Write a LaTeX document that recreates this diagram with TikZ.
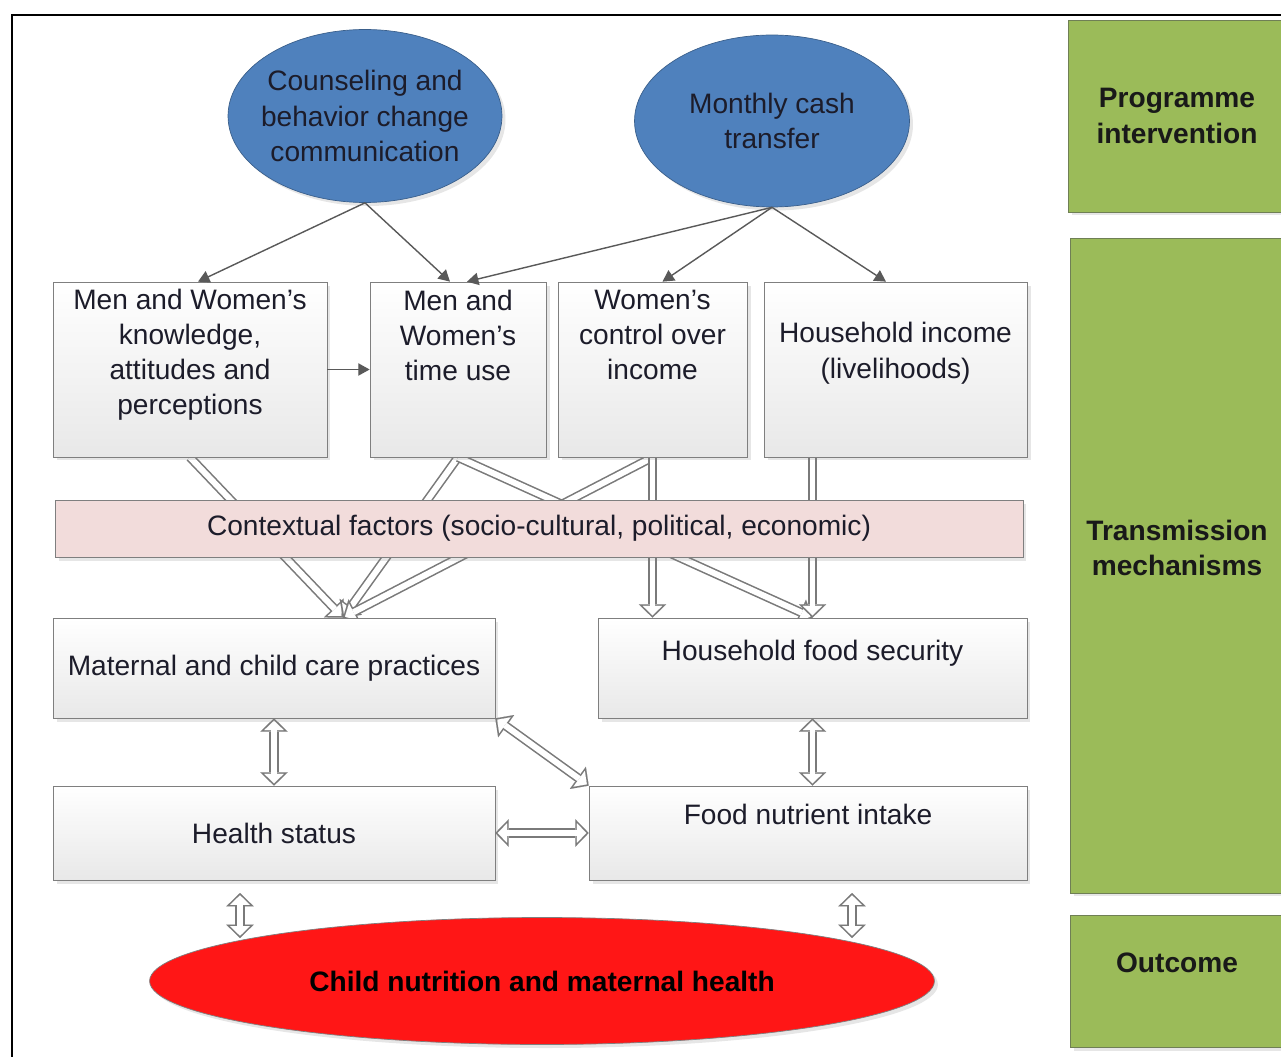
\documentclass[tikz,border=0pt]{standalone}
\usepackage{fontspec}
\setmainfont{Liberation Sans}
\usetikzlibrary{arrows.meta}
\usetikzlibrary{shapes.geometric, positioning, shadows, backgrounds}

\definecolor{ovalblue}{HTML}{4F81BD}
\definecolor{ovalline}{HTML}{3A5F8B}
\definecolor{panelgreen}{HTML}{9BBB59}
\definecolor{panelline}{HTML}{6F7F55}
\definecolor{ctxpink}{HTML}{F2DCDB}
\definecolor{boxline}{HTML}{7F7F7F}
\definecolor{linkgray}{HTML}{595959}
\definecolor{hollowline}{HTML}{7A7A7A}
\definecolor{outred}{HTML}{FF1616}
\definecolor{txtcol}{HTML}{1C1C2A}

\tikzset{
    oval/.style={ellipse, draw=ovalline, fill=ovalblue, align=center, text=txtcol,
        font=\fontsize{16}{20}\selectfont, drop shadow={opacity=0.2, shadow xshift=2pt, shadow yshift=-2pt}},
    mbox/.style={rectangle, draw=boxline, top color=white, bottom color=black!9, align=center, text=txtcol,
        font=\fontsize{16}{20}\selectfont, drop shadow={opacity=0.2, shadow xshift=2pt, shadow yshift=-2pt}},
    txt/.style={align=center, text=txtcol, inner sep=2pt, font=\fontsize{16}{20}\selectfont},
    ctxbar/.style={rectangle, draw=boxline, fill=ctxpink, text=txtcol, font=\fontsize{16}{20}\selectfont,
        drop shadow={opacity=0.2, shadow xshift=2pt, shadow yshift=-2pt}},
    goal/.style={ellipse, draw=boxline, fill=outred, text=black, font=\fontsize{16}{20}\selectfont\bfseries,
        drop shadow={opacity=0.2, shadow xshift=2pt, shadow yshift=-2pt}},
    panel/.style={rectangle, draw=panelline, fill=panelgreen, align=center, text=black!90,
        font=\fontsize{16}{20}\selectfont\bfseries, drop shadow={opacity=0.2, shadow xshift=2pt, shadow yshift=-2pt}},
    ptxt/.style={align=center, text=black!90, font=\fontsize{16}{20}\selectfont\bfseries},
    link/.style={draw=linkgray, line width=0.8pt, ->},
    hollow/.style={draw=white, line width=3.4pt, shorten >=1.3pt,
        -{Triangle[length=5.4pt, width=11pt, line width=0.01pt]},
        preaction={draw=hollowline, line width=5.2pt, shorten >=0pt,
            -{Triangle[length=7.6pt, width=15.6pt, line width=0.01pt]}}},
    hollowboth/.style={draw=white, line width=3.4pt, shorten >=1.3pt, shorten <=1.3pt,
        {Triangle[length=5.4pt, width=11pt, line width=0.01pt]}-{Triangle[length=5.4pt, width=11pt, line width=0.01pt]},
        preaction={draw=hollowline, line width=5.2pt, shorten >=0pt, shorten <=0pt,
            {Triangle[length=7.6pt, width=15.6pt, line width=0.01pt]}-{Triangle[length=7.6pt, width=15.6pt, line width=0.01pt]}}},
}

\begin{document}
\begin{tikzpicture}[x=0.02cm, y=-0.02cm, >={Triangle[length=6.5pt, width=7pt]}]

    \useasboundingbox (0,0) rectangle (1281,1057);

    % Frame
    \draw[line width=1.7pt] (12,1070) -- (12,15) -- (1295,15);

    % Programme interventions
    \node[oval, minimum width=5.48cm, minimum height=3.46cm, inner xsep=-6pt] (cbcc) at (365,116) {Counseling and\\behavior change\\communication};
    \node[oval, minimum width=5.5cm, minimum height=3.44cm] (cash) at (772,121) {Monthly cash\\transfer};

    % Transmission boxes
    \node[mbox, minimum width=5.48cm, minimum height=3.5cm] (know) at (190,369.5) {};
    \node[mbox, minimum width=3.52cm, minimum height=3.5cm] (time) at (458,369.5) {};
    \node[mbox, minimum width=3.78cm, minimum height=3.5cm] (ctrl) at (652.5,369.5) {};
    \node[mbox, minimum width=5.26cm, minimum height=3.5cm] (inc) at (895.5,369.5) {};
    \node[txt, below=2pt of know.north] (knowt) {Men and Women's\\knowledge,\\attitudes and\\perceptions};
    \node[txt, below=2.5pt of time.north] (timet) {Men and\\Women's\\time use};
    \node[txt, below=2.5pt of ctrl.north] (ctrlt) {Women's\\control over\\income};
    \node[txt, below=0.74cm of inc.north] (inct) {Household income\\(livelihoods)};

    \node[mbox, minimum width=8.84cm, minimum height=2cm] (care) at (274,668) {Maternal and child care practices};
    \node[mbox, minimum width=8.58cm, minimum height=2cm] (food) at (812.5,668) {};
    \node[txt] (foodt) at ([yshift=-0.72cm]food.north) {Household food security};

    \node[mbox, minimum width=8.84cm, minimum height=1.88cm] (health) at (274,833) {Health status};
    \node[mbox, minimum width=8.76cm, minimum height=1.88cm] (intake) at (808,833) {};
    \node[txt] (intaket) at ([yshift=-0.58cm]intake.north) {Food nutrient intake};

    % Outcome
    \node[goal, minimum width=15.7cm, minimum height=2.54cm] (goal) at (542,981) {Child nutrition and maternal health};
    \coordinate (gapla) at (240,893);
    \coordinate (gaplb) at (240,938);
    \coordinate (gapra) at (852,893);
    \coordinate (gaprb) at (852,938);

    % Contextual factors
    \node[ctxbar, minimum width=19.36cm, minimum height=1.14cm] (ctx) at (539,528.5) {Contextual factors (socio-cultural, political, economic)};

    % Side panels
    \node[panel, minimum width=4.36cm, minimum height=3.84cm] (prog) at (1177,116) {Programme\\intervention};
    \node[panel, minimum width=4.28cm, minimum height=13.1cm] (trans) at (1177,565.5) {};
    \node[ptxt] (transt) at ([yshift=0.35cm]trans.center) {Transmission\\mechanisms};
    \node[panel, minimum width=4.28cm, minimum height=2.64cm] (outc) at (1177,981) {};
    \node[ptxt] (outct) at ([yshift=0.36cm]outc.center) {Outcome};

    % Links
    \draw[link] (cbcc.south) -- ([xshift=0.16cm]know.north);
    \draw[link] (cbcc.south) -- ([xshift=-0.16cm]time.north);
    \draw[link] (cash.south) -- ([xshift=0.18cm]time.north);
    \draw[link] (cash.south) -- ([xshift=0.2cm]ctrl.north);
    \draw[link] (cash.south) -- ([xshift=-0.19cm]inc.north);
    \draw[link] (know.east) -- (time.west);

    \begin{pgfonlayer}{background}
        \draw[hollow] (know.south) -- ([xshift=1.38cm]care.north);
        \draw[hollow] (time.south) -- ([xshift=1.38cm]care.north);
        \draw[hollow] (ctrl.south) -- ([xshift=1.38cm]care.north);
        \draw[hollow] (time.south) -- (food.north);
        \draw[hollow] (ctrl.south) -- (ctrl.south |- food.north);
        \draw[hollow] (inc.south -| food.north) -- (food.north);
        \draw[hollowboth] (care.south) -- (health.north);
        \draw[hollowboth] (food.south) -- (food.south |- intake.north);
        \draw[hollowboth] (care.south east) -- (intake.north west);
        \draw[hollowboth] (health.east) -- (intake.west);
        \draw[hollowboth] (gapla) -- (gaplb);
        \draw[hollowboth] (gapra) -- (gaprb);
    \end{pgfonlayer}

\end{tikzpicture}
\end{document}
